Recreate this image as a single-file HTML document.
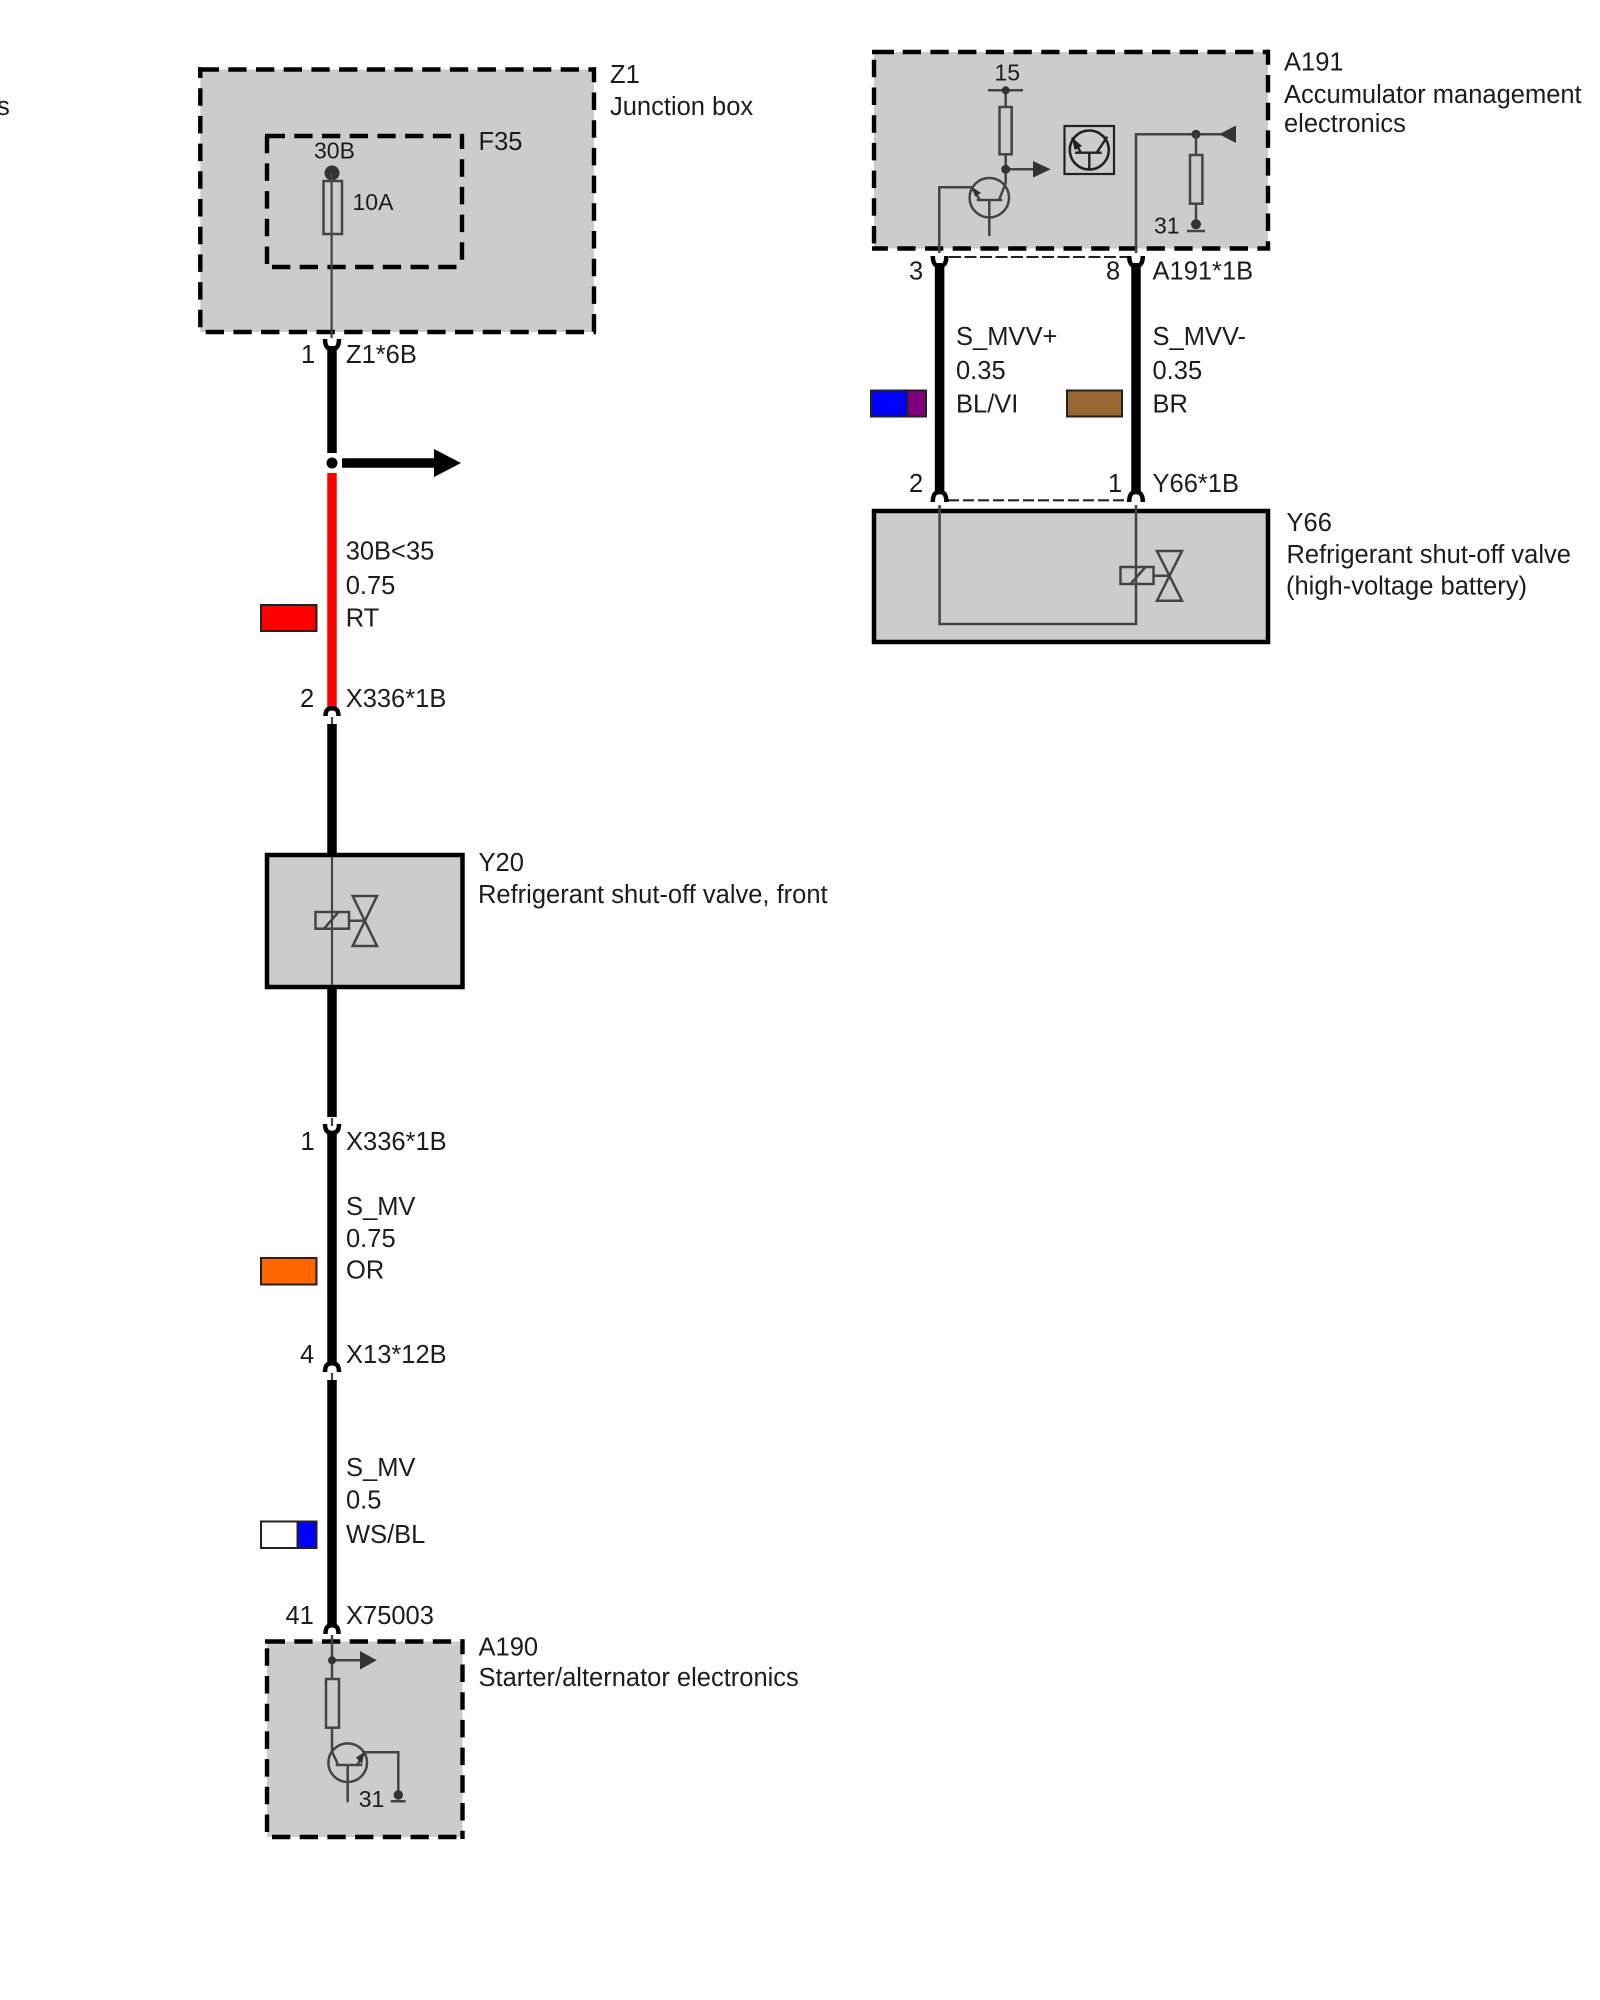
<!DOCTYPE html>
<html><head><meta charset="utf-8"><style>
html,body{margin:0;padding:0;background:#fff}
svg{display:block}
text{font-family:"Liberation Sans",sans-serif;font-size:25.5px;fill:#1c1c1c}
text.m{font-size:23px}
.g{fill:#ccc}
.d{fill:none;stroke:#000;stroke-width:4.4;stroke-dasharray:18.3 9.4}
.v{fill:none;stroke:#000;stroke-width:4.4;stroke-dasharray:17.5 10.2}
.o{fill:none;stroke:#000;stroke-width:4.4}
.s{fill:#ccc;stroke:#000;stroke-width:4.5}
.w{stroke:#000;stroke-width:9.5;fill:none}
.t{stroke:#444;stroke-width:2.2;fill:none}
.t2{stroke:#444;stroke-width:2.5;fill:none}
.c{stroke:#000;stroke-width:4.5;fill:none}
.k{fill:#333}
.sw{stroke:#222;stroke-width:2}
</style></head><body>
<svg width="1600" height="2000" viewBox="0 0 1600 2000" xmlns="http://www.w3.org/2000/svg">
<text x="-3" y="115">s</text>

<!-- Z1 -->
<rect x="200.3" y="69.5" width="393.7" height="262.5" class="g"/>
<path d="M198 69.5H219" class="o"/><path d="M228.3 69.5H596" class="d"/>
<path d="M200.3 327.3V67.3" class="v"/>
<path d="M205.7 332H596" class="d"/>
<path d="M594 67.3V334" class="v" style="stroke-dashoffset:2.5"/>
<path d="M265 136H285" class="o"/><path d="M294.3 136H464" class="d"/>
<path d="M267 264V134" class="v"/>
<path d="M272 267H464" class="d"/>
<path d="M462 134V269" class="v" style="stroke-dashoffset:2.5"/>
<text x="610" y="83">Z1</text><text x="610" y="115">Junction box</text>
<text x="478.5" y="150">F35</text><text x="314" y="158.5" class="m">30B</text><text x="352.5" y="210" class="m">10A</text>
<circle cx="332" cy="173" r="7.5" class="k"/>
<path d="M331.6 173V338" class="t"/>
<rect x="323.5" y="181" width="18.5" height="53" class="t2"/>
<path d="M325 339C325 347 328 349 332 349C336 349 339 347 339 339" class="c"/>
<text x="301" y="363">1</text><text x="346" y="363">Z1*6B</text>
<path d="M332 346V453" class="w"/>
<circle cx="332" cy="463" r="9" fill="#fff"/><circle cx="332" cy="463" r="5.5" fill="#000"/>
<path d="M342 463H435" class="w"/><path d="M434 449L461 463L434 477Z" fill="#000"/>
<path d="M332 473V707" stroke="#f00" stroke-width="9.5" fill="none"/>
<text x="345.7" y="559.5">30B&lt;35</text><text x="345.7" y="594">0.75</text><text x="345.7" y="626.7">RT</text>
<rect x="261" y="605" width="55.5" height="26" fill="#f00" class="sw"/>
<text x="300" y="707.2">2</text><text x="345.7" y="707.2">X336*1B</text>
<path d="M325.5 716C325.5 710 328 708.2 332 708.2C336 708.2 338.5 710 338.5 716" class="c"/>
<path d="M332 717V725" class="t"/>
<path d="M332 724V856" class="w"/>

<!-- Y20 -->
<rect x="267" y="855" width="195.5" height="132" class="s"/>
<text x="478.5" y="871">Y20</text><text x="478" y="903.2">Refrigerant shut-off valve, front</text>
<path d="M332 857V985" class="t"/>
<rect x="315.5" y="912" width="33.5" height="16.7" class="t2"/>
<path d="M324 928.7L338.5 912M349 920.7H365" class="t2"/>
<path d="M352.7 896H377L352.7 946H377Z" class="t2"/>
<path d="M332 986V1117" class="w"/>
<path d="M332 1118V1126" class="t"/>
<path d="M325 1124C325 1131 328 1133 332 1133C336 1133 339 1131 339 1124" class="c"/>
<text x="300.5" y="1150">1</text><text x="346" y="1150">X336*1B</text>
<path d="M332 1131V1362" class="w"/>
<text x="346" y="1215">S_MV</text><text x="346" y="1247">0.75</text><text x="346" y="1278.7">OR</text>
<rect x="261" y="1258" width="55.5" height="26.5" fill="#f60" class="sw"/>
<text x="300" y="1363">4</text><text x="346" y="1363">X13*12B</text>
<path d="M325 1372C325 1365 328 1363.2 332 1363.2C336 1363.2 339 1365 339 1372" class="c"/>
<path d="M332 1373V1381" class="t"/>
<path d="M332 1380V1627" class="w"/>
<text x="346" y="1476">S_MV</text><text x="346" y="1508.3">0.5</text><text x="346" y="1543">WS/BL</text>
<rect x="261" y="1521.5" width="55.5" height="26.5" fill="#fff" class="sw"/>
<rect x="297.5" y="1521.5" width="19" height="26.5" fill="#00f" class="sw"/>
<text x="285.5" y="1624">41</text><text x="346" y="1624">X75003</text>
<path d="M325.5 1634C325.5 1627 328 1625.2 332 1625.2C336 1625.2 338.5 1627 338.5 1634" class="c"/>

<!-- A190 -->
<rect x="267" y="1641.5" width="195.5" height="195.5" class="g"/>
<path d="M265 1641.5H285" class="o"/><path d="M294.3 1641.5H464" class="d"/>
<path d="M267 1832V1639" class="v"/>
<path d="M272 1837H464" class="d"/>
<path d="M462.5 1639.3V1839" class="v" style="stroke-dashoffset:2.5"/>
<text x="478.5" y="1655.5">A190</text><text x="478.5" y="1686">Starter/alternator electronics</text>
<path d="M332 1635V1679M332 1660.3H362M332 1727.7V1751.7L338.3 1765M335.7 1765H362.3M347.7 1765V1802.3M357.3 1765L364.3 1752.3H398.3V1795M390.7 1801.3H405.7" class="t2"/>
<circle cx="332" cy="1660.3" r="4" class="k"/><path d="M360 1651V1669.5L376.7 1660.3Z" class="k"/>
<rect x="326" y="1679" width="13" height="48.7" class="t2"/>
<circle cx="347.7" cy="1762.7" r="19.3" class="t2"/>
<circle cx="398.3" cy="1795" r="4.7" class="k"/>
<path d="M364.5 1752L356 1757.5L362 1764Z" class="k"/>
<text x="358.7" y="1807.2" class="m">31</text>

<!-- A191 -->
<rect x="874" y="52" width="394" height="196.5" class="g"/>
<path d="M872 52H894" class="o"/><path d="M902.7 52H1270" class="d"/>
<path d="M874 243.5V50" class="v"/>
<path d="M872 248.5H1270" class="d" style="stroke-dashoffset:2.4"/>
<path d="M1268 49.8V250.5" class="v" style="stroke-dashoffset:2.5"/>
<text x="1284" y="70.7">A191</text><text x="1284" y="103.2">Accumulator management</text><text x="1284" y="132">electronics</text>
<text x="994.5" y="80.7" class="m">15</text>
<path d="M988 90.3H1023M1005.7 90.3V107M1005.7 154.3V183.3L999 200M1005.7 169.3H1036M976.7 200H1002.3M989.3 200V236M980 200L971.7 187.3H939.3V253" class="t2"/>
<circle cx="1005.7" cy="90.3" r="4" class="k"/>
<rect x="999.5" y="107" width="12.2" height="47.3" class="t2"/>
<circle cx="1005.7" cy="169.3" r="4.5" class="k"/>
<path d="M1033 161V177.6L1050.7 169.3Z" class="k"/>
<circle cx="989.3" cy="197.7" r="19.7" class="t2"/>
<path d="M972 187L975 196.5L981 193Z" class="k"/>
<rect x="1064.5" y="126" width="49.5" height="48" fill="none" stroke="#222" stroke-width="2.2"/>
<circle cx="1089.3" cy="150" r="19.5" stroke="#222" stroke-width="2.6" fill="none"/>
<path d="M1075 152.7H1101.7M1089.3 152.7V169.3M1081 152.7L1072 137.5M1096.7 152.7L1107.3 136.7" stroke="#222" stroke-width="2.4" fill="none"/>
<path d="M1072 137.5L1074.5 150L1082 146Z" fill="#222"/>
<path d="M1136 253V134.3H1222" class="t2"/>
<circle cx="1196" cy="134.3" r="4.5" class="k"/>
<path d="M1219 134.3L1236 125.5V143Z" class="k"/>
<path d="M1196 134V155M1196 203.7V224" class="t2"/>
<rect x="1190" y="155" width="12.4" height="48.7" class="t2"/>
<circle cx="1196" cy="224.3" r="5" class="k"/>
<path d="M1187 231H1205" class="t2"/>
<text x="1154" y="233.5" class="m">31</text>

<path d="M949 257H1128" stroke="#222" stroke-width="2" stroke-dasharray="12 3.5" fill="none"/>
<path d="M932.8 256C932.8 264 935.5 266 939.6 266C943.7 266 946.4 264 946.4 256M1129.2 256C1129.2 264 1132 266 1136 266C1140 266 1142.8 264 1142.8 256" class="c"/>
<path d="M939.6 263V492M1136 263V492" class="w"/>
<text x="909" y="279.3">3</text><text x="1106" y="279.3">8</text><text x="1152.5" y="279.3">A191*1B</text>
<text x="956" y="345">S_MVV+</text><text x="956" y="379">0.35</text><text x="956" y="412.7">BL/VI</text>
<text x="1152.5" y="345">S_MVV-</text><text x="1152.5" y="379">0.35</text><text x="1152.5" y="412.7">BR</text>
<rect x="871" y="390.5" width="55" height="26" fill="#00f" class="sw"/>
<rect x="907.4" y="390.5" width="18.6" height="26" fill="#800080" class="sw"/>
<rect x="1067" y="390.5" width="55" height="26" fill="#963" class="sw"/>
<text x="909" y="492">2</text><text x="1108" y="492">1</text><text x="1152.5" y="492">Y66*1B</text>
<path d="M948 500.3H1128" stroke="#222" stroke-width="2.2" stroke-dasharray="11 4" fill="none"/>
<path d="M932.8 502C932.8 494 935.5 492 939.6 492C943.7 492 946.4 494 946.4 502M1129.2 502C1129.2 494 1132 492 1136 492C1140 492 1142.8 494 1142.8 502" class="c"/>

<!-- Y66 -->
<rect x="874" y="511" width="394" height="131" class="s"/>
<text x="1286.5" y="531">Y66</text><text x="1286.5" y="563.2">Refrigerant shut-off valve</text><text x="1286" y="594.5">(high-voltage battery)</text>
<path d="M939.6 505V624H1136V505" class="t2"/>
<rect x="1120.5" y="567" width="33" height="17" class="t2"/>
<path d="M1130.5 584L1145.5 567M1153.5 575.7H1169.5" class="t2"/>
<path d="M1157 551H1182L1157 600.7H1182Z" class="t2"/>
</svg>
</body></html>
